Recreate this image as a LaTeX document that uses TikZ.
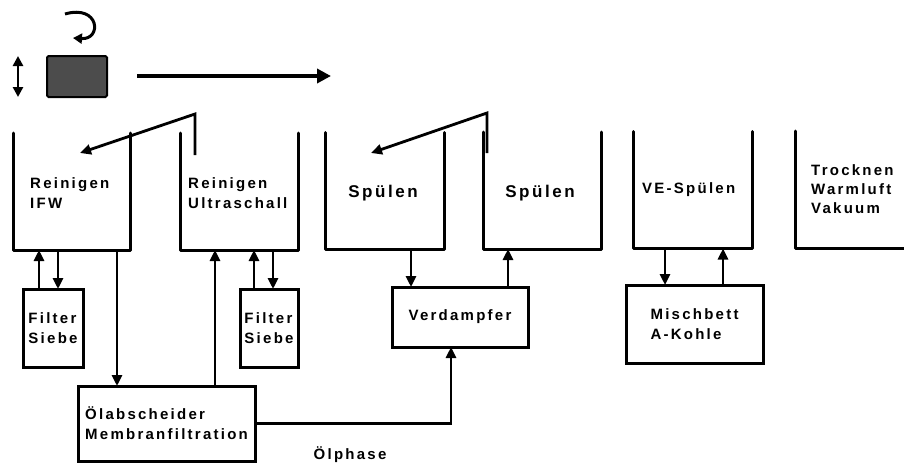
\documentclass[tikz,border=0pt]{standalone}
\usepackage{fontspec}
\setmainfont{Liberation Sans}[LetterSpace=15]
\usetikzlibrary{arrows.meta,calc}
\begin{document}
\begin{tikzpicture}[x=1pt,y=-1pt,
  every node/.style={font=\bfseries\fontsize{15}{20}\selectfont, inner sep=0pt},
  wall/.style={line width=3pt, line cap=round, line join=round},
  tank/.style={draw=none, outer sep=0pt, minimum height=117pt},
  box/.style={draw, line width=3pt, align=left, outer sep=0pt},
  arr/.style={line width=2.8pt, -{Triangle[length=11pt,width=10pt]}},
  lbl/.style={align=left, anchor=west}]
\useasboundingbox (0,0) rectangle (904,463);
% tanks
\node[tank, minimum width=117pt] (t1) at (71.5,191.5) {};
\node[tank, minimum width=118pt] (t2) at (239,191.5) {};
\node[tank, minimum width=119pt] (t3) at (384.5,191) {};
\node[tank, minimum width=118pt] (t4) at (542,190.5) {};
\node[tank, minimum width=119pt] (t5) at (692.5,190) {};
\node[tank, minimum width=109pt] (t6) at (849.5,189.5) {};
\foreach \t in {t1,t2,t3,t4,t5}
  \draw[wall] (\t.north west) |- (\t.south east) -- (\t.north east);
\draw[wall] (t6.north west) |- (t6.south east);
% tank labels
\node[lbl] (l1) at (30,193) {Reinigen\\IFW};
\node[lbl] (l2) at (188,193) {Reinigen\\Ultraschall};
\node[font=\bfseries\fontsize{17}{20}\selectfont] (l3) at (383,193) {Spülen};
\node[font=\bfseries\fontsize{17}{20}\selectfont] (l4) at (540,193) {Spülen};
\node[lbl] (l5) at (642,190) {VE-Spülen};
\node[lbl, font=\bfseries\fontsize{15}{19}\selectfont] (l6) at (811,189) {Trocknen\\Warmluft\\Vakuum};
% boxes
\node[box, minimum width=60pt, minimum height=78pt] (f1) at (53,328) {Filter\\Siebe};
\node[box, minimum width=58pt, minimum height=78pt] (f2) at (269,328) {Filter\\Siebe};
\node[box, minimum width=177pt, minimum height=75pt] (oel) at (166.5,423.5) {Ölabscheider\\Membranfiltration};
\node[box, minimum width=136pt, minimum height=60pt] (verd) at (460,317) {Verdampfer};
\node[box, minimum width=137pt, minimum height=78pt] (misch) at (694.5,324) {Mischbett\\A-Kohle};
\node (ph) at (350,455) {Ölphase};
% connectors
\draw[arr] (39,0 |- f1.north) -- (39,0 |- t1.south);
\draw[arr] (58,0 |- t1.south) -- (58,0 |- f1.north);
\draw[arr] (117,0 |- t1.south) -- (117,0 |- oel.north);
\draw[arr] (215,0 |- oel.north) -- (215,0 |- t2.south);
\draw[arr] (254,0 |- f2.north) -- (254,0 |- t2.south);
\draw[arr] (273,0 |- t2.south) -- (273,0 |- f2.north);
\draw[arr] (oel.east) -| (451,0 |- verd.south);
\draw[arr] (411,0 |- t3.south) -- (411,0 |- verd.north);
\draw[arr] (508,0 |- verd.north) -- (508,0 |- t4.south);
\draw[arr] (665,0 |- t5.south) -- (665,0 |- misch.north);
\draw[arr] (723,0 |- misch.north) -- (723,0 |- t5.south);
% overflow arrows
\coordinate (o2a) at (195,155);
\coordinate (o2b) at (195,114);
\coordinate (o1) at (80,153);
\draw[arr, line join=miter] (o2a) -- (o2b) -- (o1);
\coordinate (o4a) at (487,153);
\coordinate (o4b) at (487,113);
\coordinate (o3) at (371,153);
\draw[arr, line join=miter] (o4a) -- (o4b) -- (o3);
% top symbols
\node[draw, line width=2pt, fill=black!70, rounded corners=1.5pt, minimum width=60pt, minimum height=41pt] (part) at (77,76.5) {};
\coordinate (ta) at (137,76);
\coordinate (tb) at (331,76);
\draw[line width=4.2pt, -{Triangle[length=14pt,width=14pt]}] (ta) -- (tb);
\coordinate (da) at (18,56);
\coordinate (db) at (18,97);
\draw[line width=2.6pt, {Triangle[length=10pt,width=10pt]}-{Triangle[length=10pt,width=10pt]}] (da) -- (db);
\coordinate (ra) at (65,14);
\coordinate (rb) at (73,38);
\draw[line width=3pt, -{Triangle[length=9pt,width=10pt]}] (ra) .. controls (100,4) and (102,40) .. (rb);
\end{tikzpicture}
\end{document}
